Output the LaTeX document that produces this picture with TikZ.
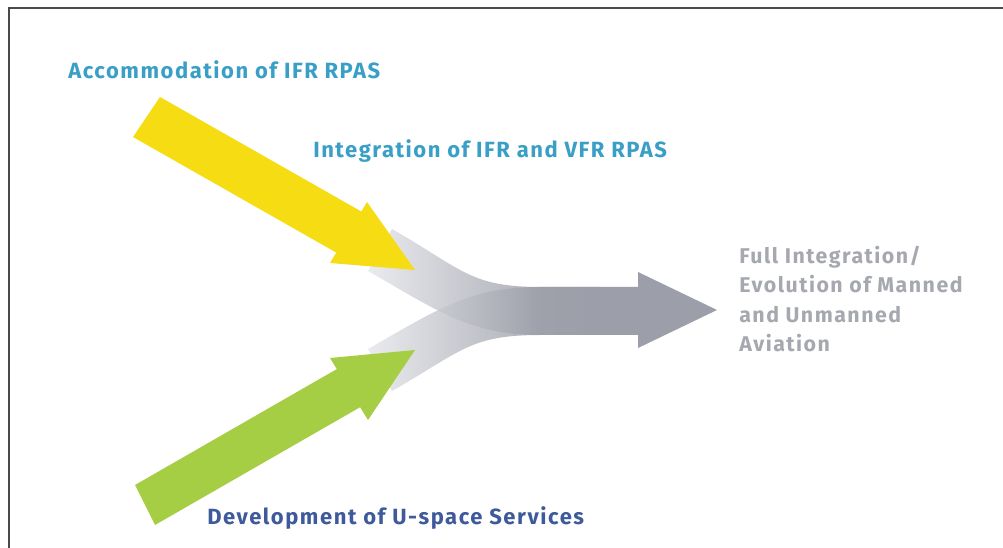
\documentclass[tikz,border=0pt]{standalone}
\usepackage{fontspec}
\setmainfont{Fira Sans}[LetterSpace=7]
\usetikzlibrary{calc,fadings}
\definecolor{tealtxt}{HTML}{3A9FC6}
\definecolor{navytxt}{HTML}{3E5A9B}
\definecolor{greytxt}{HTML}{A6A8AF}
\definecolor{arrowyellow}{HTML}{F6DC12}
\definecolor{arrowgreen}{HTML}{A6CE44}
\definecolor{arrowgrey}{HTML}{9C9EA9}
\definecolor{bandlight}{HTML}{E6E7EB}
\definecolor{framegrey}{HTML}{4A4A4A}
% light-to-grey ramp for the merging bands (path box spans 25bp..75bp)
\pgfdeclarehorizontalshading{bandshade}{100bp}{color(0bp)=(bandlight); color(25bp)=(bandlight); color(45bp)=(arrowgrey!55!bandlight); color(62bp)=(arrowgrey); color(100bp)=(arrowgrey)}
\tikzset{
  label/.style={font=\fontsize{16.5pt}{22pt}\selectfont\bfseries, inner sep=0pt, anchor=base west},
  band/.style={shading=bandshade, fill opacity=0.82, draw=none},
}
\begin{document}
\begin{tikzpicture}[x=0.75pt, y=-0.75pt]
\useasboundingbox (0,0) rectangle (1003,548);
\fill[white] (0,0) rectangle (1003,548);
% frame (left and top edges)
\draw[framegrey, line width=2pt] (9,548) -- (9,8) -- (1003,8);

% grey bands merging into the main arrow
\path[band] (392,229) .. controls (462,269) and (470,287) .. (540,287) -- (600,287)
  -- (600,335) -- (540,335) .. controls (470,335) and (438,311) .. (368,271) -- cycle;
\path[band] (368,349) .. controls (438,309) and (470,287) .. (540,287) -- (600,287)
  -- (600,335) -- (540,335) .. controls (470,335) and (462,351) .. (392,391) -- cycle;
% soft blend from the bands into the solid shaft
\fill[arrowgrey, path fading=west] (530,287) rectangle (600,335);

% main grey arrow
\fill[arrowgrey] (599,287) -- (638,287) -- (638,272) -- (717,310)
  -- (638,348) -- (638,335) -- (599,335) -- cycle;

% yellow arrow
\fill[arrowyellow] (160,97) -- (361.3,211.5) -- (367,202) -- (415,270)
  -- (330,263) -- (336.3,252.6) -- (133,137) -- cycle;

% green arrow
\fill[arrowgreen] (135,485) -- (336.8,369.1) -- (330,358) -- (415,350)
  -- (368,420) -- (360.1,407.2) -- (155,525) -- cycle;

% labels
\node[label, text=tealtxt] (acc) at (68,79) {Accommodation of IFR RPAS};
\node[label, text=tealtxt] (int) at (313,158) {Integration of IFR and VFR RPAS};
\node[label, text=navytxt] (dev) at (207,524) {Development of U-space Services};
\node[label, text=greytxt, font=\fontsize{16pt}{21.9pt}\selectfont\bfseries,
  align=left, anchor=north west] (full) at (739,246)
  {Full Integration/\\Evolution of Manned\\and Unmanned\\Aviation};
\end{tikzpicture}
\end{document}
